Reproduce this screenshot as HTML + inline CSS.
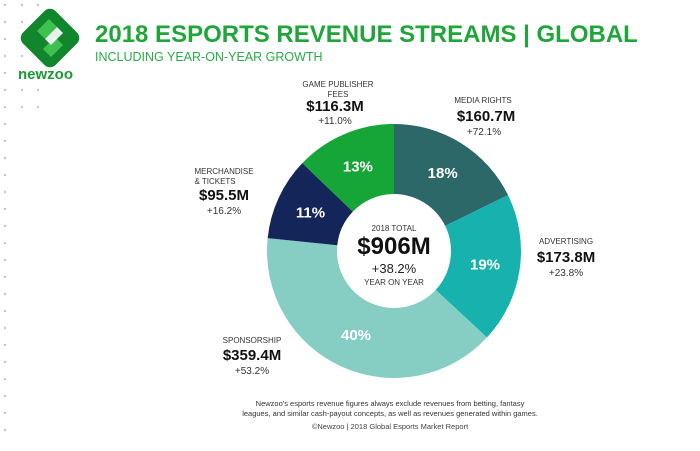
<!DOCTYPE html>
<html><head><meta charset="utf-8"><style>
body{margin:0;width:700px;height:451px;background:#fff;font-family:"Liberation Sans",sans-serif;overflow:hidden;position:relative}
.t{position:absolute;white-space:nowrap}
.c{text-align:center;transform:translateX(-50%)}
.lab{font-size:8px;color:#333;line-height:10px}
.val{font-size:15px;font-weight:bold;color:#111}
.gr{font-size:10px;color:#333}
</style></head><body>
<svg width="60" height="451" style="position:absolute;left:0;top:0" id="dots"></svg>
<svg width="70" height="70" style="position:absolute;left:15px;top:3px" viewBox="0 0 70 70">
<rect x="12" y="12" width="46" height="46" rx="8" transform="rotate(45 35 35)" fill="#12862c"/>
<path d="M22 28 L34 16 L42 24 L30 36 Z" fill="#3ec24f"/>
<path d="M28 46 L40 34 L48 42 L36 54 Z" fill="#3ec24f"/>
<path d="M30 36 L42 24 L48 30 L36 42 Z" fill="#fff" opacity=".9"/>
</svg>
<div class="t" style="left:18px;top:66px;font-size:15px;font-weight:bold;color:#1e9a36">newzoo</div>
<div class="t" style="left:95px;top:21px;font-size:24px;font-weight:bold;color:#1fa53a">2018 ESPORTS REVENUE STREAMS | GLOBAL</div>
<div class="t" style="left:95px;top:50px;font-size:12.5px;color:#2aab45">INCLUDING YEAR-ON-YEAR GROWTH</div>

<svg width="700" height="451" style="position:absolute;left:0;top:0" id="chart"></svg>

<div class="t c lab" style="left:338px;top:80px">GAME PUBLISHER<br>FEES</div>
<div class="t c val" style="left:335px;top:98px">$116.3M</div>
<div class="t c gr" style="left:335px;top:116px">+11.0%</div>

<div class="t c lab" style="left:483px;top:96px">MEDIA RIGHTS</div>
<div class="t c val" style="left:486px;top:108px">$160.7M</div>
<div class="t c gr" style="left:484px;top:127px">+72.1%</div>

<div class="t c lab" style="left:224px;top:167px;text-align:left">MERCHANDISE<br>&amp; TICKETS</div>
<div class="t c val" style="left:224px;top:187px">$95.5M</div>
<div class="t c gr" style="left:224px;top:206px">+16.2%</div>

<div class="t c lab" style="left:566px;top:237px">ADVERTISING</div>
<div class="t c val" style="left:566px;top:249px">$173.8M</div>
<div class="t c gr" style="left:566px;top:268px">+23.8%</div>

<div class="t c lab" style="left:252px;top:336px">SPONSORSHIP</div>
<div class="t c val" style="left:252px;top:347px">$359.4M</div>
<div class="t c gr" style="left:252px;top:366px">+53.2%</div>

<div class="t c" style="left:394px;top:224px;font-size:8px;color:#333">2018 TOTAL</div>
<div class="t c" style="left:394px;top:233px;font-size:24px;font-weight:bold;color:#111">$906M</div>
<div class="t c" style="left:394px;top:261px;font-size:13px;color:#222">+38.2%</div>
<div class="t c" style="left:394px;top:278px;font-size:8px;color:#333">YEAR ON YEAR</div>

<div class="t c" style="left:390px;top:399px;font-size:7.5px;color:#333;line-height:10px;text-align:center">Newzoo's esports revenue figures always exclude revenues from betting, fantasy<br>leagues, and similar cash-payout concepts, as well as revenues generated within games.</div>
<div class="t c" style="left:390px;top:422px;font-size:7.5px;color:#444">©Newzoo | 2018 Global Esports Market Report</div>

<script>
const categories=["Media Rights","Advertising","Sponsorship","Merchandise & Tickets","Game Publisher Fees"];
const values=[160.7,173.8,359.4,95.5,116.3];
const pctLabels=["18%","19%","40%","11%","13%"];
const colors=["#2b6867","#17b2ae","#86cdc4","#14255a","#16a638"];
const NS="http://www.w3.org/2000/svg";
const svg=document.getElementById('chart');
const cx=394,cy=251,R=127,r=57;
const total=values.reduce((a,b)=>a+b,0);
function ang(v){return v/total*2*Math.PI;}
function pt(a,rad){return [cx+rad*Math.sin(a),cy-rad*Math.cos(a)];}
let acc=0;
values.forEach((v,i)=>{
  const a0=ang(acc),a1=ang(acc+v);acc+=v;
  const large=(a1-a0)>Math.PI?1:0;
  const p0=pt(a0,R),p1=pt(a1,R),q1=pt(a1,r),q0=pt(a0,r);
  const p=document.createElementNS(NS,'path');
  p.setAttribute('d',`M${p0[0]},${p0[1]} A${R},${R} 0 ${large} 1 ${p1[0]},${p1[1]} L${q1[0]},${q1[1]} A${r},${r} 0 ${large} 0 ${q0[0]},${q0[1]} Z`);
  p.setAttribute('fill',colors[i]);
  
  
  svg.appendChild(p);
  const m=(a0+a1)/2,lp=pt(m,(R+r)/2);
  const t=document.createElementNS(NS,'text');
  t.setAttribute('x',lp[0]);t.setAttribute('y',lp[1]+5);
  t.setAttribute('text-anchor','middle');t.setAttribute('fill','#fff');
  t.setAttribute('font-size','15');t.setAttribute('font-weight','bold');
  t.setAttribute('font-family','Liberation Sans, sans-serif');
  t.textContent=pctLabels[i];
  
  
  svg.appendChild(t);
});
const d=document.getElementById('dots');
for(let y=5;y<440;y+=17){
  [5,22,38].forEach((x,j)=>{
    if(j>0&&y>110)return;
    const c=document.createElementNS(NS,'circle');
    c.setAttribute('cx',x);c.setAttribute('cy',y);c.setAttribute('r',1.2);c.setAttribute('fill','#c8c8c8');
    
    
    d.appendChild(c);
  });
}
</script>
</body></html>
